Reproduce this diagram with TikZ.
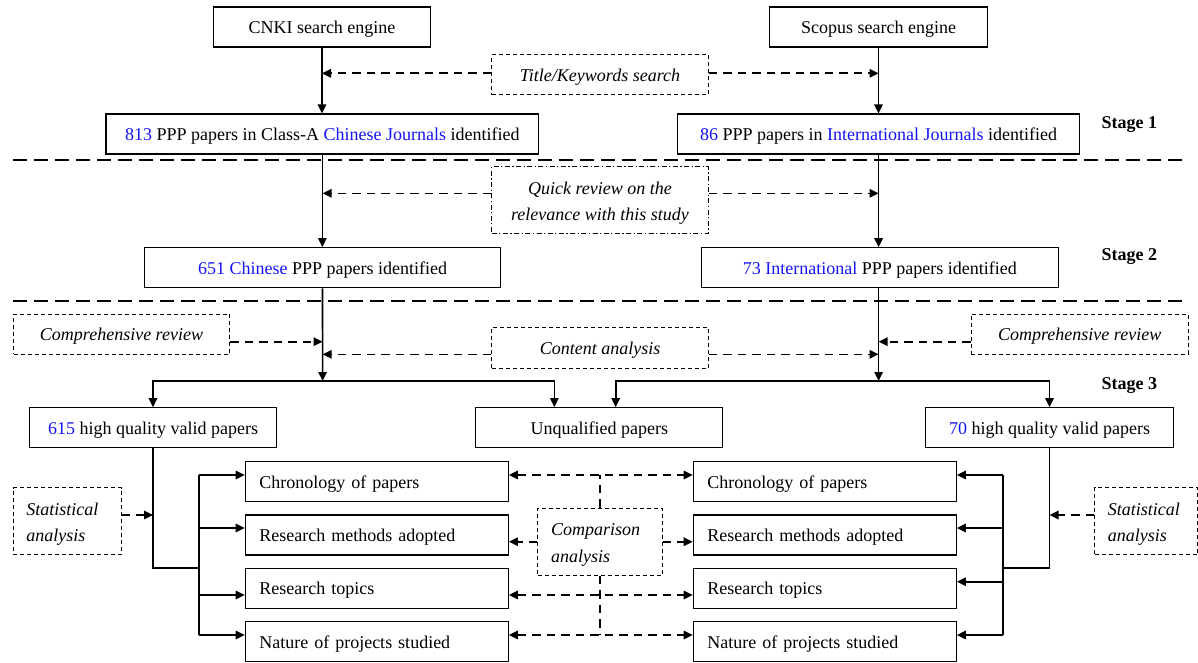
\documentclass[tikz,border=0pt]{standalone}
\usepackage{fontspec}
\setmainfont{Liberation Serif}
\usetikzlibrary{arrows.meta}
\definecolor{numblue}{RGB}{20,20,245}
\newcommand{\blu}[1]{\textcolor{numblue}{#1}}
\newcommand{\fstrut}{\rule{0pt}{18.6pt}}
\begin{document}
\begin{tikzpicture}[x=1pt,y=-1pt,
  every node/.style={font=\fontsize{18}{26.5}\selectfont},
  one/.style={text height=13.2pt, text depth=0pt},
  box/.style={draw, line width=1.2pt, inner sep=0pt, minimum height=40pt, align=center},
  dbox/.style={box, line width=1pt, dash pattern=on 4pt off 3pt, font=\fontsize{18}{26.5}\selectfont\itshape},
  ddbox/.style={box, line width=1pt, dash pattern=on 5pt off 2.5pt on 1.2pt off 2.5pt, font=\fontsize{18}{26.5}\selectfont\itshape},
  lbox/.style={box, one, text width=235pt, inner xsep=14pt, align=left},
  stagelbl/.style={one, anchor=west, font=\fontsize{18}{22}\selectfont\bfseries},
  sepline/.style={line width=1.3pt, dash pattern=on 14pt off 7pt},
  conn/.style={line width=1.6pt, -{Triangle[length=9pt,width=8.5pt]}},
  sline/.style={line width=1.3pt},
  dconn/.style={line width=1.6pt, dash pattern=on 8.5pt off 6pt, -{Triangle[length=9pt,width=8.5pt]}},
  ddconn/.style={line width=1.6pt, dash pattern=on 8.5pt off 6pt, {Triangle[length=9pt,width=8.5pt]}-{Triangle[length=9pt,width=8.5pt]}},
  dline/.style={line width=1.6pt, dash pattern=on 8.5pt off 6pt}
]
\useasboundingbox (0,0) rectangle (1198,663);

% Stage 1
\node[box, one, minimum width=217pt] (cnki) at (322,27) {CNKI search engine};
\node[box, one, minimum width=218pt] (scopus) at (878.5,27) {Scopus search engine};
\node[dbox, one, minimum width=216.5pt] (title) at (600,75) {Title/Keywords search};
\node[box, one, minimum width=432.5pt] (n813) at (322.3,134) {\blu{813} PPP papers in Class-A \blu{Chinese Journals} identified};
\node[box, one, minimum width=402pt] (n86) at (878.6,134) {\blu{86} PPP papers in \blu{International Journals} identified};
\node[stagelbl] (s1) at (1098,121.5) {Stage 1};
\coordinate (sep1a) at (13,160); \coordinate (sep1b) at (1185.5,160);
\draw[sepline] (sep1a) -- (sep1b);

% Stage 2
\node[ddbox, minimum width=216.5pt, minimum height=66.7pt] (quick) at (600,200) {\fstrut Quick review on the\\relevance with this study};
\node[box, one, minimum width=355.5pt] (n651) at (322.5,267.7) {\blu{651 Chinese} PPP papers identified};
\node[box, one, minimum width=356.7pt] (n73) at (879.8,267.7) {\blu{73 International} PPP papers identified};
\node[stagelbl] (s2) at (1098,254.3) {Stage 2};
\coordinate (sep2a) at (13,301); \coordinate (sep2b) at (1185.5,301);
\draw[sepline] (sep2a) -- (sep2b);

% Stage 3
\node[dbox, one, minimum width=216pt] (compL) at (121.5,334.3) {Comprehensive review};
\node[dbox, one, minimum width=216.5pt, minimum height=41pt] (content) at (600,347.8) {Content analysis};
\node[dbox, one, minimum width=217pt] (compR) at (1079.7,334.3) {Comprehensive review};
\node[stagelbl] (s3) at (1098,383.3) {Stage 3};
\coordinate (jL) at (322.6,381);
\coordinate (jR) at (878.6,381);
\node[box, one, minimum width=247pt] (n615) at (153,427.7) {\blu{615} high quality valid papers};
\node[box, one, minimum width=247pt] (unq) at (599.3,427.7) {Unqualified papers};
\node[box, one, minimum width=247.6pt] (n70) at (1049.5,427.7) {\blu{70} high quality valid papers};

\node[dbox, text width=82pt, inner xsep=13pt, minimum height=67.3pt, align=left] (statL) at (67.4,521.3) {\fstrut Statistical\\analysis};
\node[dbox, text width=77pt, inner xsep=13pt, minimum height=67.3pt, align=left] (statR) at (1146.3,521.3) {\fstrut Statistical\\analysis};
\node[dbox, text width=97.6pt, inner xsep=13.5pt, minimum height=66.7pt, align=left] (comp) at (600,541.7) {\fstrut Comparison\\analysis};

\node[lbox] (L1) at (376.8,481.7) {Chronology of papers};
\node[lbox] (L2) at (376.8,535) {Research methods adopted};
\node[lbox] (L3) at (376.8,588.3) {Research topics};
\node[lbox] (L4) at (376.8,641.7) {Nature of projects studied};
\node[lbox] (R1) at (824.8,481.7) {Chronology of papers};
\node[lbox] (R2) at (824.8,535) {Research methods adopted};
\node[lbox] (R3) at (824.8,588.3) {Research topics};
\node[lbox] (R4) at (824.8,641.7) {Nature of projects studied};

% main solid flow
\draw[conn] (cnki.south) -- (cnki.south |- n813.north);
\draw[conn] (scopus.south) -- (scopus.south |- n86.north);
\draw[conn] (n813.south) -- (n813.south |- n651.north);
\draw[conn] (n86.south) -- (n86.south |- n73.north);
\draw[conn] (n651.south) -- (jL);
\draw[conn] (n86.south |- n73.south) -- (jR);
\draw[conn] (jL) -| (n615.north);
\draw[conn] (jL) -| ([xshift=-45pt]unq.north);
\draw[conn] (jR) -| ([xshift=16.4pt]unq.north);
\draw[conn] (jR) -| (n70.north);

% dashed side inputs
\draw[dconn] ([yshift=1.7pt]title.west) coordinate (tw) -- (tw -| cnki.south);
\draw[dconn] ([yshift=1.7pt]title.east) coordinate (te) -- (te -| scopus.south);
\draw[dconn] ([yshift=6.7pt]quick.west) coordinate (qw) -- (qw -| jL);
\draw[dconn] ([yshift=6.7pt]quick.east) coordinate (qe) -- (qe -| jR);
\draw[dconn] ([yshift=-7.4pt]compL.east) coordinate (cle) -- (cle -| jL);
\draw[dconn] ([yshift=-7.4pt]compR.west) coordinate (crw) -- (crw -| jR);
\draw[dconn] ([yshift=-6.5pt]content.west) coordinate (cw) -- (cw -| jL);
\draw[dconn] ([yshift=-6.5pt]content.east) coordinate (ce) -- (ce -| jR);
\draw[dconn] ([yshift=6.3pt]statL.east) coordinate (sle) -- (sle -| n615.south);
\draw[dconn] ([yshift=6.3pt]statR.west) coordinate (srw) -- (srw -| n70.south);

% left tree
\coordinate (tL) at (199,568);
\coordinate (aL1) at ([yshift=6.7pt]L1.west);
\coordinate (aL2) at ([yshift=7pt]L2.west);
\coordinate (aL3) at ([yshift=-6.7pt]L3.west);
\coordinate (aL4) at ([yshift=6.7pt]L4.west);
\draw[sline] (n615.south) |- (tL);
\draw[sline] (aL1 -| tL) -- (aL4 -| tL);
\draw[conn] (aL1 -| tL) -- (aL1);
\draw[conn] (aL2 -| tL) -- (aL2);
\draw[conn] (aL3 -| tL) -- (aL3);
\draw[conn] (aL4 -| tL) -- (aL4);

% right tree
\coordinate (tR) at (1003,568);
\coordinate (aR1) at ([yshift=6.7pt]R1.east);
\coordinate (aR2) at ([yshift=7pt]R2.east);
\coordinate (aR3) at ([yshift=6.6pt]R3.east);
\coordinate (aR4) at ([yshift=6.7pt]R4.east);
\draw[sline] (n70.south) |- (tR);
\draw[sline] (aR1 -| tR) -- (aR4 -| tR);
\draw[conn] (aR1 -| tR) -- (aR1);
\draw[conn] (aR2 -| tR) -- (aR2);
\draw[conn] (aR3 -| tR) -- (aR3);
\draw[conn] (aR4 -| tR) -- (aR4);

% comparison analysis
\draw[dline] (comp.north) -- (comp.north |- aL1);
\draw[dline] (comp.south) -- (comp.south |- aL4);
\draw[ddconn] (aL1 -| L1.east) -- (aL1 -| R1.west);
\draw[dconn] (comp.west) -- (comp.west -| L2.east);
\draw[dconn] (comp.east) -- (comp.east -| R2.west);
\draw[ddconn] (aL3 -| L3.east) -- (aL3 -| R3.west);
\draw[ddconn] (aL4 -| L4.east) -- (aL4 -| R4.west);
\end{tikzpicture}
\end{document}
